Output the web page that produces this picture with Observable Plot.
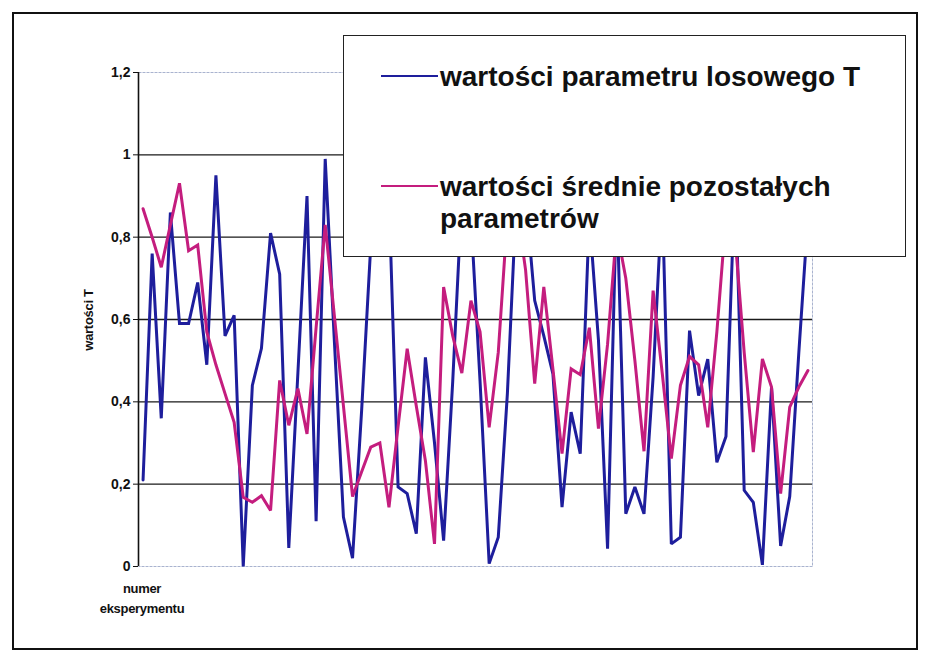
<!DOCTYPE html>
<html>
<head>
<meta charset="utf-8">
<script src="https://cdn.jsdelivr.net/npm/d3@7"></script>
<script src="https://cdn.jsdelivr.net/npm/@observablehq/plot@0.6"></script>
<style>
  body { margin: 0; background: #fff; font-family: "Liberation Sans", Arial, sans-serif; }
  #wrap { position: relative; width: 931px; height: 662px; overflow: hidden; background: #fff; }
  #chart { position: absolute; left: 0; top: 0; }
  #frame { position: absolute; left: 12px; top: 12px; width: 902px; height: 634px; border: 2px solid #111; pointer-events: none; }
  #legend { position: absolute; left: 343px; top: 35px; width: 561px; height: 220px; border: 1.5px solid #222; background: #fff; }
  #legend svg { position: absolute; left: 0; top: 0; }
  .lbl { position: absolute; font-weight: bold; font-size: 13px; color: #111; white-space: nowrap; letter-spacing: -0.3px; }
  #ylab { left: 88px; top: 320px; transform: translate(-50%, -50%) rotate(-90deg); }
  #xlab1 { left: 142px; top: 588px; transform: translate(-50%, -50%); }
  #xlab2 { left: 142px; top: 608px; transform: translate(-50%, -50%); }
</style>
</head>
<body>
<div id="wrap">
  <div id="chart"></div>
  <div id="legend"></div>
  <div class="lbl" id="ylab"></div>
  <div class="lbl" id="xlab1"></div>
  <div class="lbl" id="xlab2"></div>
  <div id="frame"></div>
</div>
<script>
// ---- data ----
const seriesNames = ["wartości parametru losowego T", "wartości średnie pozostałych parametrów"];
const legendLines = [["wartości parametru losowego T"], ["wartości średnie pozostałych", "parametrów"]];
const seriesColors = ["#1e1e9c", "#c41d7e"];
const yTicks = [0, 0.2, 0.4, 0.6, 0.8, 1, 1.2];
const gridTicks = [0.2, 0.4, 0.6, 0.8, 1];
const yLabel = "wartości T";
const xLabelLines = ["numer", "eksperymentu"];

const blueT = [
  0.21, 0.76, 0.36, 0.86, 0.59, 0.59, 0.69, 0.49, 0.95, 0.56,
  0.61, 0.00, 0.44, 0.53, 0.81, 0.71, 0.045, 0.47, 0.90, 0.11,
  0.99, 0.55, 0.12, 0.02, 0.38, 0.78, 0.92, 0.90, 0.193, 0.177,
  0.08, 0.508, 0.30, 0.063, 0.45, 0.90, 0.85, 0.45, 0.007, 0.071,
  0.42, 0.90, 0.90, 0.646, 0.56, 0.468, 0.144, 0.375, 0.274, 0.85,
  0.55, 0.043, 0.90, 0.128, 0.193, 0.128, 0.46, 0.90, 0.055, 0.071,
  0.573, 0.415, 0.504, 0.253, 0.316, 0.95, 0.185, 0.156, 0.004, 0.436,
  0.05, 0.17, 0.52, 0.85
];
const pinkMean = [
  0.869, 0.80, 0.727, 0.83, 0.931, 0.767, 0.781, 0.57, 0.49, 0.42,
  0.35, 0.168, 0.156, 0.172, 0.136, 0.452, 0.343, 0.432, 0.322, 0.58,
  0.83, 0.61, 0.39, 0.17, 0.23, 0.29, 0.30, 0.144, 0.34, 0.529,
  0.39, 0.257, 0.055, 0.679, 0.56, 0.47, 0.646, 0.57, 0.338, 0.52,
  0.85, 0.88, 0.72, 0.444, 0.679, 0.48, 0.274, 0.48, 0.466, 0.58,
  0.335, 0.54, 0.82, 0.70, 0.50, 0.28, 0.67, 0.47, 0.262, 0.44,
  0.51, 0.49, 0.338, 0.57, 0.85, 0.80, 0.52, 0.278, 0.504, 0.436,
  0.177, 0.387, 0.436, 0.476
];

// ---- chart ----
const xDomain = [-0.5, blueT.length - 0.5];
const chart = Plot.plot({
  width: 931,
  height: 662,
  marginLeft: 138,
  marginRight: 119,
  marginTop: 72,
  marginBottom: 96,
  style: { background: "transparent", fontFamily: "'Liberation Sans', Arial, sans-serif", color: "#111" },
  x: { domain: xDomain, axis: null },
  y: { domain: [0, 1.2], axis: null },
  marks: [
    Plot.frame({ stroke: "#a9b3cf", strokeWidth: 1, strokeDasharray: "3,1" }),
    Plot.ruleY(gridTicks, { stroke: "#1a1a1a", strokeWidth: 1.3 }),
    Plot.ruleX([xDomain[0]], { stroke: "#111", strokeWidth: 1.6 }),
    Plot.axisY(yTicks, {
      anchor: "left",
      tickSize: 5,
      tickPadding: 3,
      stroke: "#111",
      fontSize: 14,
      fontWeight: "bold",
      tickFormat: d => String(d).replace(".", ","),
      label: null
    }),
    Plot.lineY(blueT, { stroke: seriesColors[0], strokeWidth: 3, strokeLinejoin: "miter", strokeMiterlimit: 2 }),
    Plot.lineY(pinkMean, { stroke: seriesColors[1], strokeWidth: 3, strokeLinejoin: "miter", strokeMiterlimit: 2 })
  ]
});
document.getElementById("chart").appendChild(chart);

// ---- legend (drawn above the lines, as in the original) ----
const ns = "http://www.w3.org/2000/svg";
const lsvg = document.createElementNS(ns, "svg");
lsvg.setAttribute("width", 561);
lsvg.setAttribute("height", 220);
const rowY = [40, 150];
legendLines.forEach((lines, i) => {
  const ln = document.createElementNS(ns, "line");
  ln.setAttribute("x1", 37); ln.setAttribute("x2", 94);
  ln.setAttribute("y1", rowY[i]); ln.setAttribute("y2", rowY[i]);
  ln.setAttribute("stroke", seriesColors[i]);
  ln.setAttribute("stroke-width", 2);
  lsvg.appendChild(ln);
  lines.forEach((t, j) => {
    const tx = document.createElementNS(ns, "text");
    tx.setAttribute("x", 96);
    tx.setAttribute("y", rowY[i] + 10 + j * 32);
    tx.setAttribute("font-family", "'Liberation Sans', Arial, sans-serif");
    tx.setAttribute("font-weight", "bold");
    tx.setAttribute("font-size", 28);
    tx.setAttribute("fill", "#111");
    tx.textContent = t;
    lsvg.appendChild(tx);
  });
});
document.getElementById("legend").appendChild(lsvg);

document.getElementById("ylab").textContent = yLabel;
document.getElementById("xlab1").textContent = xLabelLines[0];
document.getElementById("xlab2").textContent = xLabelLines[1];
</script>
</body>
</html>
